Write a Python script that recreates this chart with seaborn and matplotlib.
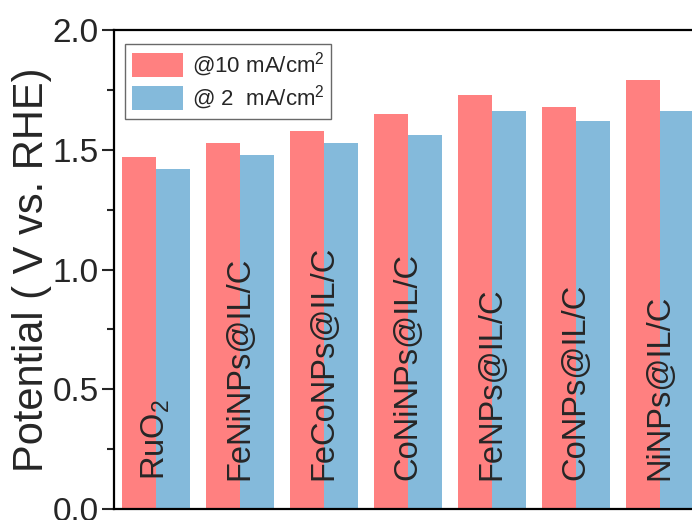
import matplotlib
matplotlib.use("Agg")
import matplotlib.pyplot as plt
import seaborn as sns
import pandas as pd
from matplotlib.ticker import MultipleLocator

categories = ["RuO$_2$", "FeNiNPs@IL/C", "FeCoNPs@IL/C", "CoNiNPs@IL/C",
              "FeNPs@IL/C", "CoNPs@IL/C", "NiNPs@IL/C"]
series_names = ["@10 mA/cm$^2$", "@ 2  mA/cm$^2$"]
values_10 = [1.47, 1.53, 1.58, 1.65, 1.73, 1.68, 1.79]
values_2 = [1.42, 1.48, 1.53, 1.56, 1.66, 1.62, 1.66]
colors = ["#FF8080", "#84BADB"]

sns.set_style("white")
plt.rcParams["font.family"] = ["Liberation Sans", "DejaVu Sans"]
plt.rcParams["mathtext.fontset"] = "custom"
plt.rcParams["mathtext.rm"] = "Liberation Sans"
plt.rcParams["mathtext.it"] = "Liberation Sans:italic"
plt.rcParams["mathtext.default"] = "regular"

df = pd.DataFrame({
    "cat": categories * 2,
    "series": [series_names[0]] * len(categories) + [series_names[1]] * len(categories),
    "val": values_10 + values_2,
})

fig = plt.figure(figsize=(6.92, 5.20), dpi=100)
ax = fig.add_axes([114 / 692, 11 / 520, 588 / 692, 479 / 520])

sns.barplot(data=df, x="cat", y="val", hue="series", palette=colors,
            width=0.81, gap=0, saturation=1, linewidth=0, ax=ax)

ax.set_ylim(0, 2.0)
ax.set_xlim(-0.5, len(categories) - 0.5)
ax.yaxis.set_major_locator(MultipleLocator(0.5))
ax.yaxis.set_minor_locator(MultipleLocator(0.25))
ax.yaxis.set_major_formatter(matplotlib.ticker.FormatStrFormatter("%.1f"))
ax.tick_params(axis="y", which="major", direction="out", length=9, width=1.5,
               labelsize=24, left=True, pad=2)
ax.tick_params(axis="y", which="minor", direction="out", length=5, width=1.5, left=True)
ax.tick_params(axis="x", bottom=False, labelbottom=False)
ax.set_xlabel("")
ax.set_ylabel("Potential ( V vs. RHE)", fontsize=30, labelpad=0)

for s in ax.spines.values():
    s.set_linewidth(1.6)
    s.set_color("black")

for i, lab in enumerate(categories):
    ax.text(i, 0.12, lab, rotation=90, ha="center", va="bottom", fontsize=23.5)

leg = ax.legend(loc="upper left", bbox_to_anchor=(0.0187, 0.971), borderaxespad=0,
                fontsize=16, frameon=True, fancybox=False, handlelength=2.3,
                handleheight=1.3, handletextpad=0.4, labelspacing=0.2,
                borderpad=0.3, title=None)
leg.get_frame().set_edgecolor("#444444")
leg.get_frame().set_linewidth(1.0)

fig.savefig("out.png", dpi=100)
